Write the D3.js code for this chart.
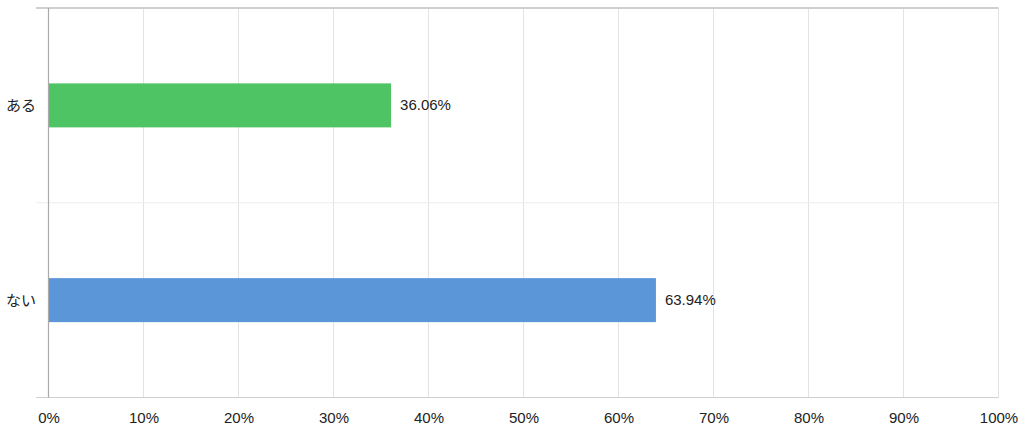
<!DOCTYPE html>
<html>
<head>
<meta charset="utf-8">
<script src="https://cdn.jsdelivr.net/npm/d3@7"></script>
<style>
  body { margin: 0; background: #fff; }
  svg text { font-family: "Liberation Sans", Arial, "Noto Sans CJK JP", sans-serif; }
</style>
</head>
<body>
<svg id="chart" width="1024" height="434"></svg>
<script>
const categories = ["ある", "ない"];
const values = [36.06, 63.94];
const bar_colors = ["#4fc464", "#5b96d8"];
const tick_values = [0, 10, 20, 30, 40, 50, 60, 70, 80, 90, 100];

let svg = d3.select("#chart");
let plot_left = 48.5, plot_right = 998.5, plot_top = 8, plot_bottom = 397.5;

let x = d3.scaleLinear().domain([0, 100]).range([plot_left, plot_right]);
let y = d3.scaleBand().domain(categories).range([plot_top, plot_bottom]).paddingInner(0).paddingOuter(0);
let bar_h = 44;

// vertical gridlines
svg.append("g")
  .selectAll("line")
  .data(tick_values.slice(1))
  .enter()
  .append("line")
  .attr("x1", (d) => x(d)).attr("x2", (d) => x(d))
  .attr("y1", plot_top).attr("y2", plot_bottom)
  .style("stroke", "#e3e3e3")
  .style("stroke-width", 1);

// horizontal lines: top, between categories, bottom
let h_lines = [plot_top].concat(categories.slice(1).map((c) => y(c))).concat([plot_bottom]);
svg.append("g")
  .selectAll("line")
  .data(h_lines)
  .enter()
  .append("line")
  .attr("x1", 36).attr("x2", plot_right)
  .attr("y1", (d) => d).attr("y2", (d) => d)
  .style("stroke", (d, i) => (i == 0 || i == h_lines.length - 1) ? "#cfcfcf" : "#ececec")
  .style("stroke-width", (d, i) => (i == 0) ? 2 : 1);

// bars
svg.append("g")
  .selectAll("rect")
  .data(values)
  .enter()
  .append("rect")
  .attr("x", x(0))
  .attr("y", (d, i) => y(categories[i]) + y.bandwidth() / 2 - bar_h / 2)
  .attr("width", (d) => x(d) - x(0))
  .attr("height", bar_h)
  .style("fill", (d, i) => bar_colors[i]);

// value labels
svg.append("g")
  .selectAll("text")
  .data(values)
  .enter()
  .append("text")
  .text((d) => d.toFixed(2) + "%")
  .attr("x", (d) => x(d) + 9)
  .attr("y", (d, i) => y(categories[i]) + y.bandwidth() / 2 + 5)
  .style("font-size", "15px")
  .style("fill", "#222");

// left axis line
svg.append("line")
  .attr("x1", plot_left).attr("x2", plot_left)
  .attr("y1", plot_top).attr("y2", plot_bottom)
  .style("stroke", "#aaaaaa")
  .style("stroke-width", 1.2);

// category labels
svg.append("g")
  .selectAll("text")
  .data(categories)
  .enter()
  .append("text")
  .text((d) => d)
  .attr("x", 36)
  .attr("y", (d) => y(d) + y.bandwidth() / 2 + 6)
  .attr("text-anchor", "end")
  .style("font-size", "15px")
  .style("fill", "#222");

// x axis tick labels
let x_axis = d3.axisBottom(x).tickValues(tick_values).tickFormat((d) => d + "%").tickSize(0).tickPadding(0);
let gx = svg.append("g").attr("transform", `translate(0, ${plot_bottom + 15})`).call(x_axis);
gx.select(".domain").remove();
gx.selectAll("text")
  .style("font-size", "15px")
  .style("fill", "#222");
</script>
</body>
</html>
